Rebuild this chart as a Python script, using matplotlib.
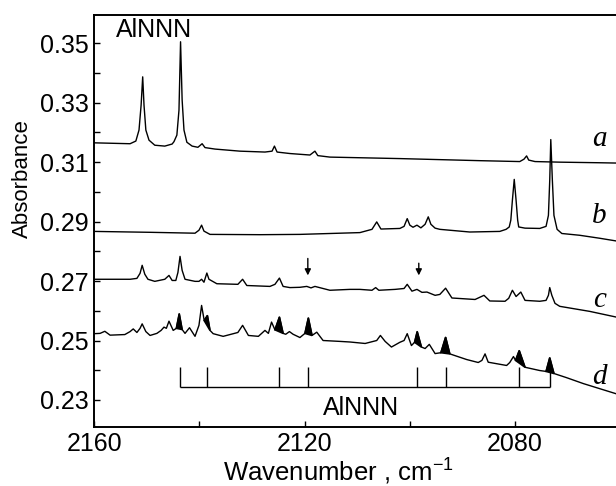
import numpy as np
import matplotlib
matplotlib.use("Agg")
import matplotlib.pyplot as plt
from matplotlib.ticker import MultipleLocator

plt.rcParams['font.family'] = ['Liberation Sans', 'DejaVu Sans']
plt.rcParams['mathtext.fontset'] = 'custom'
plt.rcParams['mathtext.rm'] = 'Liberation Sans'

# spectrum a
a_x = [2160, 2153.2, 2152.1, 2151.5, 2151.1, 2150.8, 2150.55, 2150.2, 2149.6, 2148.5,
       2146.6, 2145.2, 2144.85, 2144.3, 2143.9, 2143.6, 2143.3, 2142.95, 2142.4, 2141.4,
       2140.3, 2139.5, 2138.95, 2137.05, 2132.3, 2127.55, 2126.2, 2125.75, 2125.25, 2122.8,
       2119.0, 2118.05, 2117.5, 2115.2, 2101.9, 2086.7, 2079.1, 2078.3, 2077.8, 2077.4,
       2076.2, 2071.5, 2063.9, 2060.8]
a_y = [0.3165, 0.3162, 0.3171, 0.3208, 0.3292, 0.3387, 0.3292, 0.3208, 0.3174, 0.3157,
       0.3154, 0.3161, 0.3169, 0.3191, 0.3275, 0.3505, 0.3309, 0.3208, 0.3167, 0.3154,
       0.3150, 0.3162, 0.3149, 0.3144, 0.3137, 0.3134, 0.3137, 0.3154, 0.3134, 0.3129,
       0.3124, 0.3137, 0.3122, 0.3117, 0.3112, 0.3105, 0.3102, 0.3110, 0.3121, 0.3107,
       0.3102, 0.3100, 0.3098, 0.3097]

# spectrum b
b_x = [2160, 2149.4, 2140.85, 2140.1, 2139.6, 2139.15, 2138.0, 2128.5, 2120.9, 2115.2,
       2109.5, 2107.2, 2106.3, 2105.5, 2101.9, 2101.1, 2100.5, 2100.0, 2099.4, 2098.65,
       2097.9, 2097.1, 2096.5, 2096.0, 2095.2, 2094.3, 2088.6, 2082.9, 2081.7, 2081.1,
       2080.8, 2080.5, 2080.15, 2079.8, 2079.5, 2079.3, 2078.1, 2075.3, 2074.1, 2073.65,
       2073.4, 2073.2, 2072.9, 2072.6, 2072.0, 2071.1, 2067.7, 2063.9, 2060.8]
b_y = [0.2867, 0.2864, 0.2861, 0.2871, 0.2888, 0.2868, 0.2857, 0.2856, 0.2857, 0.2860,
       0.2863, 0.2874, 0.2899, 0.2875, 0.2877, 0.2884, 0.2910, 0.2888, 0.2881, 0.2888,
       0.2879, 0.2891, 0.2916, 0.2891, 0.2878, 0.2874, 0.2865, 0.2867, 0.2874, 0.2882,
       0.2905, 0.2972, 0.3042, 0.2972, 0.2905, 0.2882, 0.2878, 0.2877, 0.2884, 0.2921,
       0.3039, 0.3176, 0.3039, 0.2921, 0.2874, 0.2860, 0.2854, 0.2844, 0.2835]

# spectrum c
c_x = [2160, 2153.2, 2151.9, 2151.3, 2150.9, 2150.4, 2149.8, 2148.5, 2146.6, 2145.8,
       2145.2, 2144.5, 2144.1, 2143.7, 2143.3, 2142.75, 2140.85, 2140.1, 2139.6, 2139.15,
       2138.6, 2138.2, 2136.7, 2132.7, 2131.8, 2131.0, 2126.6, 2125.65, 2124.8, 2124.1,
       2122.8, 2120.9, 2119.6, 2118.8, 2118.05, 2115.2, 2111.4, 2109.5, 2107.2, 2106.5,
       2105.9, 2102.8, 2101.1, 2100.5, 2099.6, 2098.65, 2097.7, 2096.75, 2095.2, 2094.3,
       2093.2, 2092.0, 2087.6, 2085.9, 2084.8, 2081.9, 2081.2, 2080.5, 2079.8, 2078.9,
       2078.1, 2075.3, 2074.1, 2073.65, 2073.4, 2073.0, 2072.4, 2071.5, 2065.8, 2060.8]
c_y = [0.2706, 0.2706, 0.2709, 0.2726, 0.2753, 0.2723, 0.2706, 0.2699, 0.2706, 0.2719,
       0.2702, 0.2702, 0.2729, 0.2783, 0.2736, 0.2706, 0.2699, 0.2699, 0.2706, 0.2696,
       0.2727, 0.2706, 0.2691, 0.2689, 0.2706, 0.2685, 0.2682, 0.2689, 0.2710, 0.2682,
       0.2678, 0.2679, 0.2682, 0.2677, 0.2682, 0.2669, 0.2672, 0.2672, 0.2669, 0.2678,
       0.2669, 0.2672, 0.2675, 0.2689, 0.2666, 0.2672, 0.2662, 0.2663, 0.2652, 0.2655,
       0.2676, 0.2643, 0.2638, 0.2652, 0.2633, 0.2632, 0.2642, 0.2669, 0.2648, 0.2663,
       0.2635, 0.2632, 0.2635, 0.2652, 0.2678, 0.2652, 0.2625, 0.2615, 0.2598, 0.2579]

# spectrum d
d_x = [2160, 2158.9, 2158.0, 2157.0, 2154.2, 2153.2, 2152.6, 2151.9, 2151.3, 2150.9,
       2150.2, 2149.4, 2148.1, 2147.3, 2146.75, 2146.3, 2145.8, 2145.0, 2144.4, 2143.85,
       2143.3, 2142.75, 2141.9, 2140.85, 2140.1, 2139.6, 2139.1, 2138.5, 2138.0, 2137.4,
       2135.5, 2132.7, 2131.8, 2130.7, 2128.8, 2127.55, 2126.9, 2126.3, 2125.65, 2124.8,
       2124.1, 2123.6, 2122.9, 2122.2, 2120.9, 2119.95, 2119.3, 2118.6, 2117.7, 2116.5,
       2113.3, 2111.4, 2108.5, 2106.3, 2105.6, 2104.7, 2103.5, 2101.9, 2101.1, 2100.5,
       2099.7, 2099.1, 2098.6, 2097.8, 2097.1, 2096.3, 2095.2, 2094.1, 2093.2, 2092.4,
       2089.2, 2087.0, 2086.3, 2085.7, 2085.1, 2081.6, 2081.0, 2080.3, 2079.9, 2079.2,
       2078.1, 2075.3, 2074.1, 2073.4, 2072.6, 2070.2, 2067.0, 2060.8]
d_y = [0.2523, 0.2524, 0.2531, 0.2518, 0.2520, 0.2530, 0.2539, 0.2527, 0.2541, 0.2556,
       0.2530, 0.2517, 0.2524, 0.2534, 0.2545, 0.2541, 0.2565, 0.2534, 0.2541, 0.2590,
       0.2537, 0.2524, 0.2543, 0.2514, 0.2551, 0.2618, 0.2567, 0.2584, 0.2534, 0.2523,
       0.2514, 0.2527, 0.2551, 0.2517, 0.2514, 0.2534, 0.2524, 0.2562, 0.2536, 0.2579,
       0.2524, 0.2521, 0.2530, 0.2521, 0.2510, 0.2524, 0.2576, 0.2517, 0.2528, 0.2500,
       0.2497, 0.2495, 0.2490, 0.2500, 0.2517, 0.2497, 0.2478, 0.2494, 0.2500, 0.2523,
       0.2483, 0.2494, 0.2530, 0.2478, 0.2473, 0.2487, 0.2456, 0.2459, 0.2511, 0.2455,
       0.2436, 0.2426, 0.2433, 0.2455, 0.2427, 0.2416, 0.2426, 0.2446, 0.2433, 0.2466,
       0.2410, 0.2399, 0.2396, 0.2442, 0.2389, 0.2375, 0.2355, 0.2321]

# AlNNN bands (black-filled in d, marked on the bar)
alnnn_pos = [2143.8, 2138.5, 2124.8, 2119.3, 2098.6, 2093.2, 2079.2, 2073.4]
arrow_pos = [2119.4, 2098.3]
arrow_top = [0.2776, 0.2760]

series = {'a': (a_x, a_y), 'b': (b_x, b_y), 'c': (c_x, c_y), 'd': (d_x, d_y)}
# baseline of the a/b/c/d letters
letter_y = {'a': 0.3154, 'b': 0.2894, 'c': 0.2614, 'd': 0.2355}


def main() -> None:
    fig = plt.figure(figsize=(6.16, 4.86), dpi=100)
    ax = fig.add_axes([0.1531, 0.122, 0.8469, 0.8471])

    for name, (x, y) in series.items():
        ax.plot(x, y, color='black', lw=1.0)
        ax.text(2063.9, letter_y[name], name, ha='center', va='baseline',
                fontsize=21, style='italic', family='Liberation Serif')

    # fill the AlNNN peaks of spectrum d
    dx = np.array(d_x)
    dy = np.array(d_y)
    for w in alnnn_pos:
        i = int(np.argmin(np.abs(dx - w)))
        ax.fill(dx[i - 1:i + 2], dy[i - 1:i + 2], color='black', lw=1.2)

    # AlNNN bar
    ax.hlines(0.2345, alnnn_pos[0], alnnn_pos[-1], color='black', lw=1.0)
    ax.vlines(alnnn_pos, 0.2345, 0.241, color='black', lw=1.0)
    ax.text(2109.2, 0.2274, 'AlNNN', ha='center', va='center', fontsize=18)
    ax.text(2148.6, 0.3545, 'AlNNN', ha='center', va='center', fontsize=18)

    for w, top in zip(arrow_pos, arrow_top):
        ax.annotate('', xy=(w, 0.2719), xytext=(w, top),
                    arrowprops=dict(arrowstyle='-|>', color='black', lw=1.0,
                                    mutation_scale=9, shrinkA=0, shrinkB=0))

    ax.set_xlim(2160, 2060.8)
    ax.set_ylim(0.221, 0.3595)
    ax.set_xticks([2160, 2120, 2080])
    ax.xaxis.set_minor_locator(MultipleLocator(20))
    ax.set_yticks([0.23, 0.25, 0.27, 0.29, 0.31, 0.33, 0.35])
    ax.set_yticklabels(['0.23', '0.25', '0.27', '0.29', '0.31', '0.33', '0.35'])
    ax.yaxis.set_minor_locator(MultipleLocator(0.01))
    ax.tick_params(which='both', direction='in', length=4, width=1.0,
                   labelsize=18, pad=4)
    ax.spines['right'].set_visible(False)
    for s in ['left', 'top', 'bottom']:
        ax.spines[s].set_linewidth(1.4)

    fig.text(0.0357, 0.6317, 'Absorbance', rotation=90, ha='center', va='center', fontsize=16)
    fig.text(0.55, 0.032, 'Wavenumber , cm$^{-1}$', ha='center', va='center', fontsize=18.5)

    fig.savefig('out.png', dpi=100)


if __name__ == "__main__":
    main()
